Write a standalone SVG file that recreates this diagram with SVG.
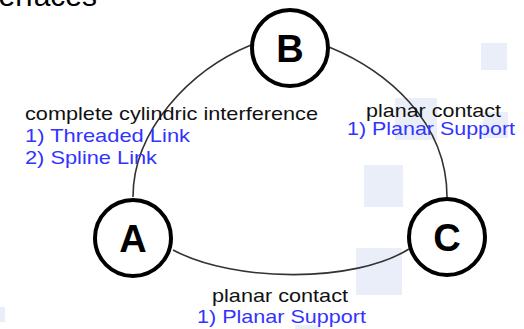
<svg xmlns="http://www.w3.org/2000/svg" width="524" height="329" viewBox="0 0 524 329">
  <style>
    .bg { fill: #e9eef8; }
    .edge { fill: none; stroke: #333; stroke-width: 1.6; }
    .node circle { fill: #fff; stroke: #000; stroke-width: 4; }
    .node text { font-family: "Liberation Sans", Arial, sans-serif; font-weight: bold; font-size: 38px; fill: #000; text-anchor: middle; }
    .lbl { font-family: "Liberation Sans", Arial, sans-serif; font-size: 19px; }
    .head { fill: #111; }
    .item { fill: #3333ff; }
  </style>
  <rect width="524" height="329" fill="#fff"/>

  <!-- pale background tiles -->
  <g id="tiles">
    <rect class="bg" x="481" y="43" width="26" height="27"/>
    <rect class="bg" x="395" y="98" width="42" height="42"/>
    <rect class="bg" x="483" y="112" width="25" height="26"/>
    <rect class="bg" x="364" y="165" width="39" height="42"/>
    <rect class="bg" x="356" y="248" width="46" height="47"/>
    <rect class="bg" x="295" y="325" width="25" height="10"/>
    <rect class="bg" x="0" y="307" width="5" height="15"/>
  </g>

  <!-- heading, mostly outside the frame -->
  <text x="97" y="6" text-anchor="end" font-family="Liberation Sans, Arial, sans-serif" font-size="30" fill="#000">Interfaces</text>

  <g id="connectors">
    <path class="edge" d="M133,197 C133,130 190,70 251,45"/>
    <path class="edge" d="M329,47 C385,70 447,120 447,197"/>
    <path class="edge" d="M173,250 C235,283 355,283 409,249"/>
  </g>

  <g id="label-AB" class="lbl">
    <text class="head" x="25" y="119.5" textLength="293" lengthAdjust="spacingAndGlyphs">complete cylindric interference</text>
    <text class="item" x="25" y="142" textLength="165" lengthAdjust="spacingAndGlyphs">1) Threaded Link</text>
    <text class="item" x="25" y="164" textLength="132" lengthAdjust="spacingAndGlyphs">2) Spline Link</text>
  </g>
  <g id="label-BC" class="lbl">
    <text class="head" x="366" y="116.5" textLength="135" lengthAdjust="spacingAndGlyphs">planar contact</text>
    <text class="item" x="347" y="135" textLength="168" lengthAdjust="spacingAndGlyphs">1) Planar Support</text>
  </g>
  <g id="label-AC" class="lbl">
    <text class="head" x="212" y="301.5" textLength="136" lengthAdjust="spacingAndGlyphs">planar contact</text>
    <text class="item" x="197" y="323" textLength="169" lengthAdjust="spacingAndGlyphs">1) Planar Support</text>
  </g>

  <g id="node-A" class="node">
    <circle cx="133" cy="238" r="38"/>
    <text x="133" y="251.5">A</text>
  </g>
  <g id="node-B" class="node">
    <circle cx="290" cy="48" r="38"/>
    <text x="290" y="61.5">B</text>
  </g>
  <g id="node-C" class="node">
    <circle cx="447" cy="237" r="38"/>
    <text x="447" y="250.5">C</text>
  </g>
</svg>
